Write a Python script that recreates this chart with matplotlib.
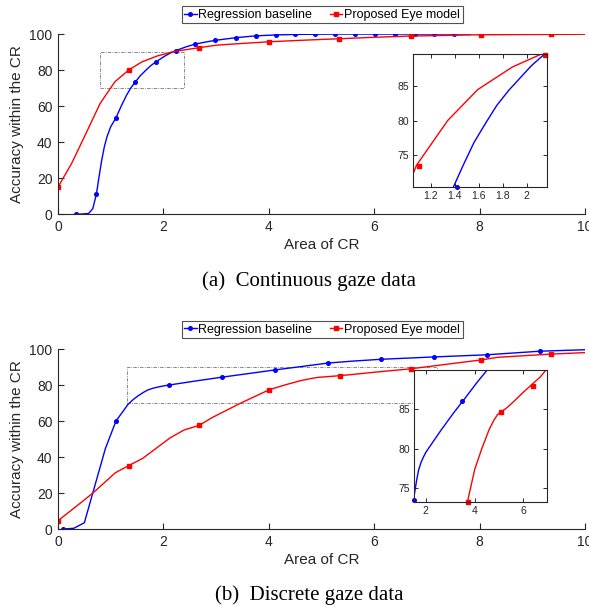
import numpy as np
import matplotlib
matplotlib.use("Agg")
import matplotlib.pyplot as plt
from matplotlib.patches import Rectangle
from matplotlib.lines import Line2D

# ---------------- data ----------------
# (a) continuous gaze data
blue_a_x = [0.35, 0.45, 0.58, 0.66, 0.73, 0.78, 0.83, 0.88, 0.93, 1.00, 1.10, 1.20,
            1.30, 1.38, 1.47, 1.56, 1.66, 1.75, 1.85, 1.95, 2.04, 2.13, 2.23, 2.42,
            2.60, 2.79, 2.98, 3.38, 3.75, 4.13, 4.50, 4.88, 5.26, 5.64, 6.02, 6.40,
            6.77, 7.14, 7.52, 7.82]
blue_a_y = [0.0, 0.0, 0.3, 3.0, 11.3, 21.0, 30.0, 37.5, 43.0, 48.5, 53.5, 60.0,
            66.0, 70.0, 73.5, 76.8, 79.7, 82.2, 84.4, 86.3, 88.0, 89.4, 90.7, 92.8,
            94.4, 95.5, 96.5, 98.0, 99.0, 99.5, 99.8, 99.9, 100.0, 100.0, 100.0, 100.0,
            100.0, 100.0, 100.0, 100.0]
blue_a_marks = [0, 4, 10, 14, 18, 22, 24, 26, 27, 28, 29, 30, 31, 32, 33, 34, 35, 36, 37, 38]

red_a_x = [0.0, 0.26, 0.55, 0.80, 1.08, 1.34, 1.59, 1.88, 2.20, 2.67, 3.00, 3.50,
           4.00, 4.67, 5.34, 6.00, 6.69, 8.02, 9.36, 10.0]
red_a_y = [15.0, 28.2, 46.0, 61.5, 73.5, 80.0, 84.5, 87.8, 90.3, 92.4, 93.8, 94.8,
           95.7, 96.6, 97.4, 98.2, 98.9, 99.6, 99.8, 99.9]
red_a_marks = [0, 5, 9, 12, 14, 16, 17, 18]

# zoomed view markers (a)
inset_a_blue_x = [1.42, 2.15]
inset_a_blue_y = [70.3, 89.5]
inset_a_red_x = [1.10, 2.15]
inset_a_red_y = [73.3, 89.5]
box_a = (0.8, 2.4, 70, 90)
inset_a_xlim = (1.05, 2.17)
inset_a_ylim = (70.3, 89.7)
inset_a_xticks = [1.2, 1.4, 1.6, 1.8, 2.0]
inset_a_yticks = [75, 80, 85]

# (b) discrete gaze data
blue_b_x = [0.10, 0.30, 0.50, 0.90, 1.10, 1.33, 1.43, 1.52, 1.62, 1.70, 1.80, 1.90,
            2.00, 2.11, 2.60, 3.12, 3.60, 4.12, 4.60, 5.12, 5.60, 6.13, 7.13, 8.14,
            9.15, 10.0]
blue_b_y = [0.0, 0.4, 3.5, 44.8, 60.0, 69.3, 72.0, 74.0, 75.9, 77.2, 78.2, 78.9,
            79.5, 80.0, 82.2, 84.4, 86.3, 88.4, 90.2, 92.2, 93.3, 94.3, 95.6, 96.8,
            98.8, 99.6]
blue_b_marks = [0, 4, 13, 15, 17, 19, 21, 22, 23, 24]

red_b_x = [0.0, 0.48, 0.67, 1.09, 1.34, 1.61, 2.12, 2.39, 2.68, 2.93, 3.47, 4.01,
           4.30, 4.60, 4.80, 4.95, 5.09, 5.35, 5.60, 6.00, 6.69, 7.50, 8.02, 8.34,
           9.36, 10.0]
red_b_y = [4.6, 15.7, 20.2, 31.3, 35.2, 39.3, 50.5, 55.0, 57.6, 62.0, 70.0, 77.4,
           80.0, 82.4, 83.6, 84.3, 84.6, 85.2, 85.9, 87.1, 89.0, 92.0, 93.9, 95.4,
           97.2, 98.0]
red_b_marks = [0, 4, 8, 11, 17, 20, 22, 24]

# zoomed view markers (b)
inset_b_blue_x = [1.53, 3.50]
inset_b_blue_y = [73.5, 86.0]
inset_b_red_x = [3.75, 5.09, 6.41]
inset_b_red_y = [73.3, 84.6, 87.9]
box_b = (1.3, 7.2, 70, 90)
inset_b_xlim = (1.53, 6.96)
inset_b_ylim = (73.3, 89.9)
inset_b_xticks = [2, 4, 6]
inset_b_yticks = [75, 80, 85]

x_ticks = [0, 2, 4, 6, 8, 10]
y_ticks = [0, 20, 40, 60, 80, 100]
series_names = ["Regression baseline", "Proposed Eye model"]
captions = ["(a)  Continuous gaze data", "(b)  Discrete gaze data"]

# ---------------- style ----------------
plt.rcParams["font.family"] = ["Liberation Sans", "DejaVu Sans"]
AX_COLOR = (0.15, 0.15, 0.15)
BLUE = (0, 0, 1)
RED = (1, 0, 0)
LW = 1.0
MS_O = 2.6
MS_S = 2.3

fig = plt.figure(figsize=(5.89, 6.07), dpi=100)


def style_main(ax):
    for s in ("top", "right"):
        ax.spines[s].set_visible(False)
    for s in ("left", "bottom"):
        ax.spines[s].set_color(AX_COLOR)
        ax.spines[s].set_linewidth(0.8)
    ax.tick_params(direction="in", length=4, width=0.8, colors=AX_COLOR,
                   labelsize=10, pad=4)
    ax.set_xlim(0, 10)
    ax.set_ylim(0, 100)
    ax.set_xticks(x_ticks)
    ax.set_yticks(y_ticks)
    ax.set_xlabel("Area of CR", fontsize=11, color=AX_COLOR, labelpad=3)
    ax.set_ylabel("Accuracy within the CR", fontsize=11, color=AX_COLOR, labelpad=4)


def style_inset(ax, xlim, ylim, xt, yt):
    for s in ax.spines.values():
        s.set_color(AX_COLOR)
        s.set_linewidth(0.8)
    ax.tick_params(direction="in", length=3, width=0.7, colors=AX_COLOR,
                   labelsize=7.5, top=True, right=True, pad=3)
    ax.set_xlim(*xlim)
    ax.set_ylim(*ylim)
    ax.set_xticks(xt)
    ax.set_yticks(yt)
    ax.set_xticklabels([f"{v:g}" for v in xt])


def draw_panel(rect, inset_rect, bx, by, bm, rx, ry, rm, box,
               ibx, iby, irx, iry, ixlim, iylim, ixt, iyt, legend_y, caption, cap_y):
    ax = fig.add_axes(rect)
    style_main(ax)
    ax.plot(bx, by, color=BLUE, lw=LW, marker="o", ms=MS_O, markevery=bm)
    ax.plot(rx, ry, color=RED, lw=LW, marker="s", ms=MS_S, markevery=rm)
    ax.add_patch(Rectangle((box[0], box[2]), box[1] - box[0], box[3] - box[2],
                           fill=False, ec=(0.45, 0.45, 0.45), lw=0.6,
                           ls=(0, (4, 1.5, 1, 1.5))))

    ins = fig.add_axes(inset_rect)
    ins.set_facecolor("white")
    ins.plot(bx, by, color=BLUE, lw=LW)
    ins.plot(rx, ry, color=RED, lw=LW)
    ins.plot(ibx, iby, ls="none", marker="o", ms=MS_O, color=BLUE, clip_on=False)
    ins.plot(irx, iry, ls="none", marker="s", ms=MS_S, color=RED, clip_on=False)
    style_inset(ins, ixlim, iylim, ixt, iyt)

    handles = [Line2D([], [], color=BLUE, lw=LW, marker="o", ms=MS_O),
               Line2D([], [], color=RED, lw=LW, marker="s", ms=MS_S)]
    leg = fig.legend(handles, series_names, loc="center",
                     bbox_to_anchor=(0.5467, legend_y), ncol=2, fontsize=9,
                     frameon=True, fancybox=False, handlelength=1.0,
                     handletextpad=0.15, columnspacing=1.4, borderpad=0.2,
                     borderaxespad=0, numpoints=1)
    leg.get_frame().set_edgecolor(AX_COLOR)
    leg.get_frame().set_linewidth(0.8)

    fig.text(0.525, cap_y, caption, ha="center", va="center", fontsize=15,
             family=["Liberation Serif", "DejaVu Serif"], color="black")
    return ax


draw_panel([0.0985, 0.6474, 0.8947, 0.2965], [0.7012, 0.6919, 0.2275, 0.2191],
           blue_a_x, blue_a_y, blue_a_marks, red_a_x, red_a_y, red_a_marks, box_a,
           inset_a_blue_x, inset_a_blue_y, inset_a_red_x, inset_a_red_y,
           inset_a_xlim, inset_a_ylim, inset_a_xticks, inset_a_yticks,
           0.9753, captions[0], 1 - 281 / 607)

draw_panel([0.0985, 0.1285, 0.8947, 0.2965], [0.7034, 0.1735, 0.2248, 0.2170],
           blue_b_x, blue_b_y, blue_b_marks, red_b_x, red_b_y, red_b_marks, box_b,
           inset_b_blue_x, inset_b_blue_y, inset_b_red_x, inset_b_red_y,
           inset_b_xlim, inset_b_ylim, inset_b_xticks, inset_b_yticks,
           1 - 329.5 / 607, captions[1], 1 - 595 / 607)

fig.savefig("out.png", dpi=100)
